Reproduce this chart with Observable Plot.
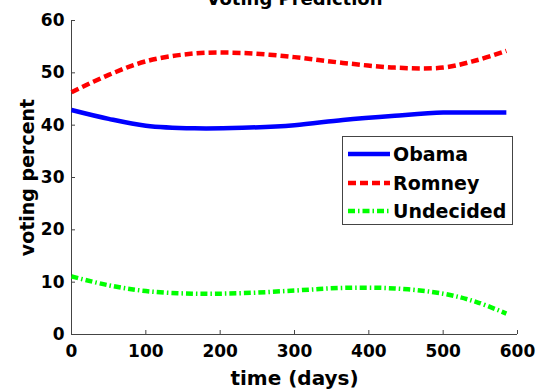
<!DOCTYPE html>
<html>
<head>
<meta charset="utf-8">
<script src="https://cdn.jsdelivr.net/npm/d3@7"></script>
<script src="https://cdn.jsdelivr.net/npm/@observablehq/plot@0.6"></script>
<style>
  html, body { margin: 0; padding: 0; background: #fff; overflow: hidden; }
  #wrap { position: relative; width: 537px; height: 392px; font-family: "DejaVu Sans", sans-serif; font-weight: bold; }
  #legend { position: absolute; left: 342px; top: 136px; width: 169px; height: 87px; border: 1px solid #444; background: #fff; }
  .row { position: absolute; left: 0; height: 28px; display: flex; align-items: center; font-size: 19px; color: #000; }
  .row svg { margin-left: 5px; margin-right: 3px; }
</style>
</head>
<body>
<div id="wrap"></div>
<script>
const days = [0, 50, 100, 165, 230, 300, 365, 435, 500, 545, 585];
const obama = [42.9, 41.2, 39.9, 39.4, 39.5, 40.0, 41.0, 41.8, 42.4, 42.4, 42.4];
const romney = [46.3, 49.6, 52.2, 53.7, 53.8, 53.0, 51.9, 51.0, 51.0, 52.4, 54.2];
const undecided = [11.1, 9.4, 8.3, 7.8, 7.9, 8.4, 8.9, 8.8, 7.8, 6.2, 4.0];
const seriesNames = ["Obama", "Romney", "Undecided"];
const xTicks = [0, 100, 200, 300, 400, 500, 600];
const yTicks = [0, 10, 20, 30, 40, 50, 60];
const titleText = "Voting Prediction";
const xLabel = "time (days)";
const yLabel = "voting percent";

const styles = {
  Obama: {stroke: "#0000ff", dash: null},
  Romney: {stroke: "#ff0000", dash: "8,4"},
  Undecided: {stroke: "#00ff00", dash: "7,3,1.5,3"}
};
const values = {Obama: obama, Romney: romney, Undecided: undecided};
const rows = seriesNames.map(name => days.map((d, i) => ({day: d, v: values[name][i], name})));

const plot = Plot.plot({
  width: 537,
  height: 392,
  marginLeft: 71,
  marginRight: 20,
  marginTop: 20,
  marginBottom: 58,
  style: {fontFamily: "DejaVu Sans", fontWeight: "bold", fontSize: "17px", color: "#000", background: "#fff", overflow: "visible"},
  x: {domain: [0, 600], ticks: xTicks},
  y: {domain: [0, 60], ticks: yTicks},
  marks: [
    Plot.ruleX([0], {stroke: "#444", strokeWidth: 1}),
    Plot.ruleY([0], {stroke: "#444", strokeWidth: 1}),
    Plot.axisX(xTicks, {tickSize: -4, stroke: "#444", text: null, label: null}),
    Plot.axisY(yTicks, {tickSize: -4, stroke: "#444", text: null, label: null}),
    Plot.axisX(xTicks, {tickSize: 0, tickPadding: 10, label: null, fill: "#000"}),
    Plot.axisY(yTicks, {tickSize: 0, tickPadding: 7, label: null, fill: "#000"}),
    ...seriesNames.map((name, k) => Plot.line(rows[k], {
      x: "day", y: "v", stroke: styles[name].stroke, strokeWidth: 4.5,
      strokeDasharray: styles[name].dash, strokeLinecap: "butt", strokeLinejoin: "round",
      curve: "catmull-rom"
    })),
    Plot.text([xLabel], {frameAnchor: "bottom", lineAnchor: "bottom", dy: 50, fontSize: 20, fill: "#000"}),
    Plot.text([yLabel], {frameAnchor: "left", textAnchor: "middle", rotate: -90, dx: -44, fontSize: 19, fill: "#000"}),
    Plot.text([titleText], {frameAnchor: "top", lineAnchor: "bottom", dy: -16, fontSize: 18, fill: "#000"})
  ]
});

const wrap = document.getElementById("wrap");
wrap.appendChild(plot);

const legend = document.createElement("div");
legend.id = "legend";
seriesNames.forEach((name, i) => {
  const row = document.createElement("div");
  row.className = "row";
  row.style.top = (3 + i * 28.5) + "px";
  const s = styles[name];
  row.innerHTML = `<svg width="42" height="10"><line x1="0" y1="5" x2="42" y2="5" stroke="${s.stroke}" stroke-width="4.5" ${s.dash ? `stroke-dasharray="${s.dash}"` : ""}/></svg><span>${name}</span>`;
  legend.appendChild(row);
});
wrap.appendChild(legend);
</script>
</body>
</html>
